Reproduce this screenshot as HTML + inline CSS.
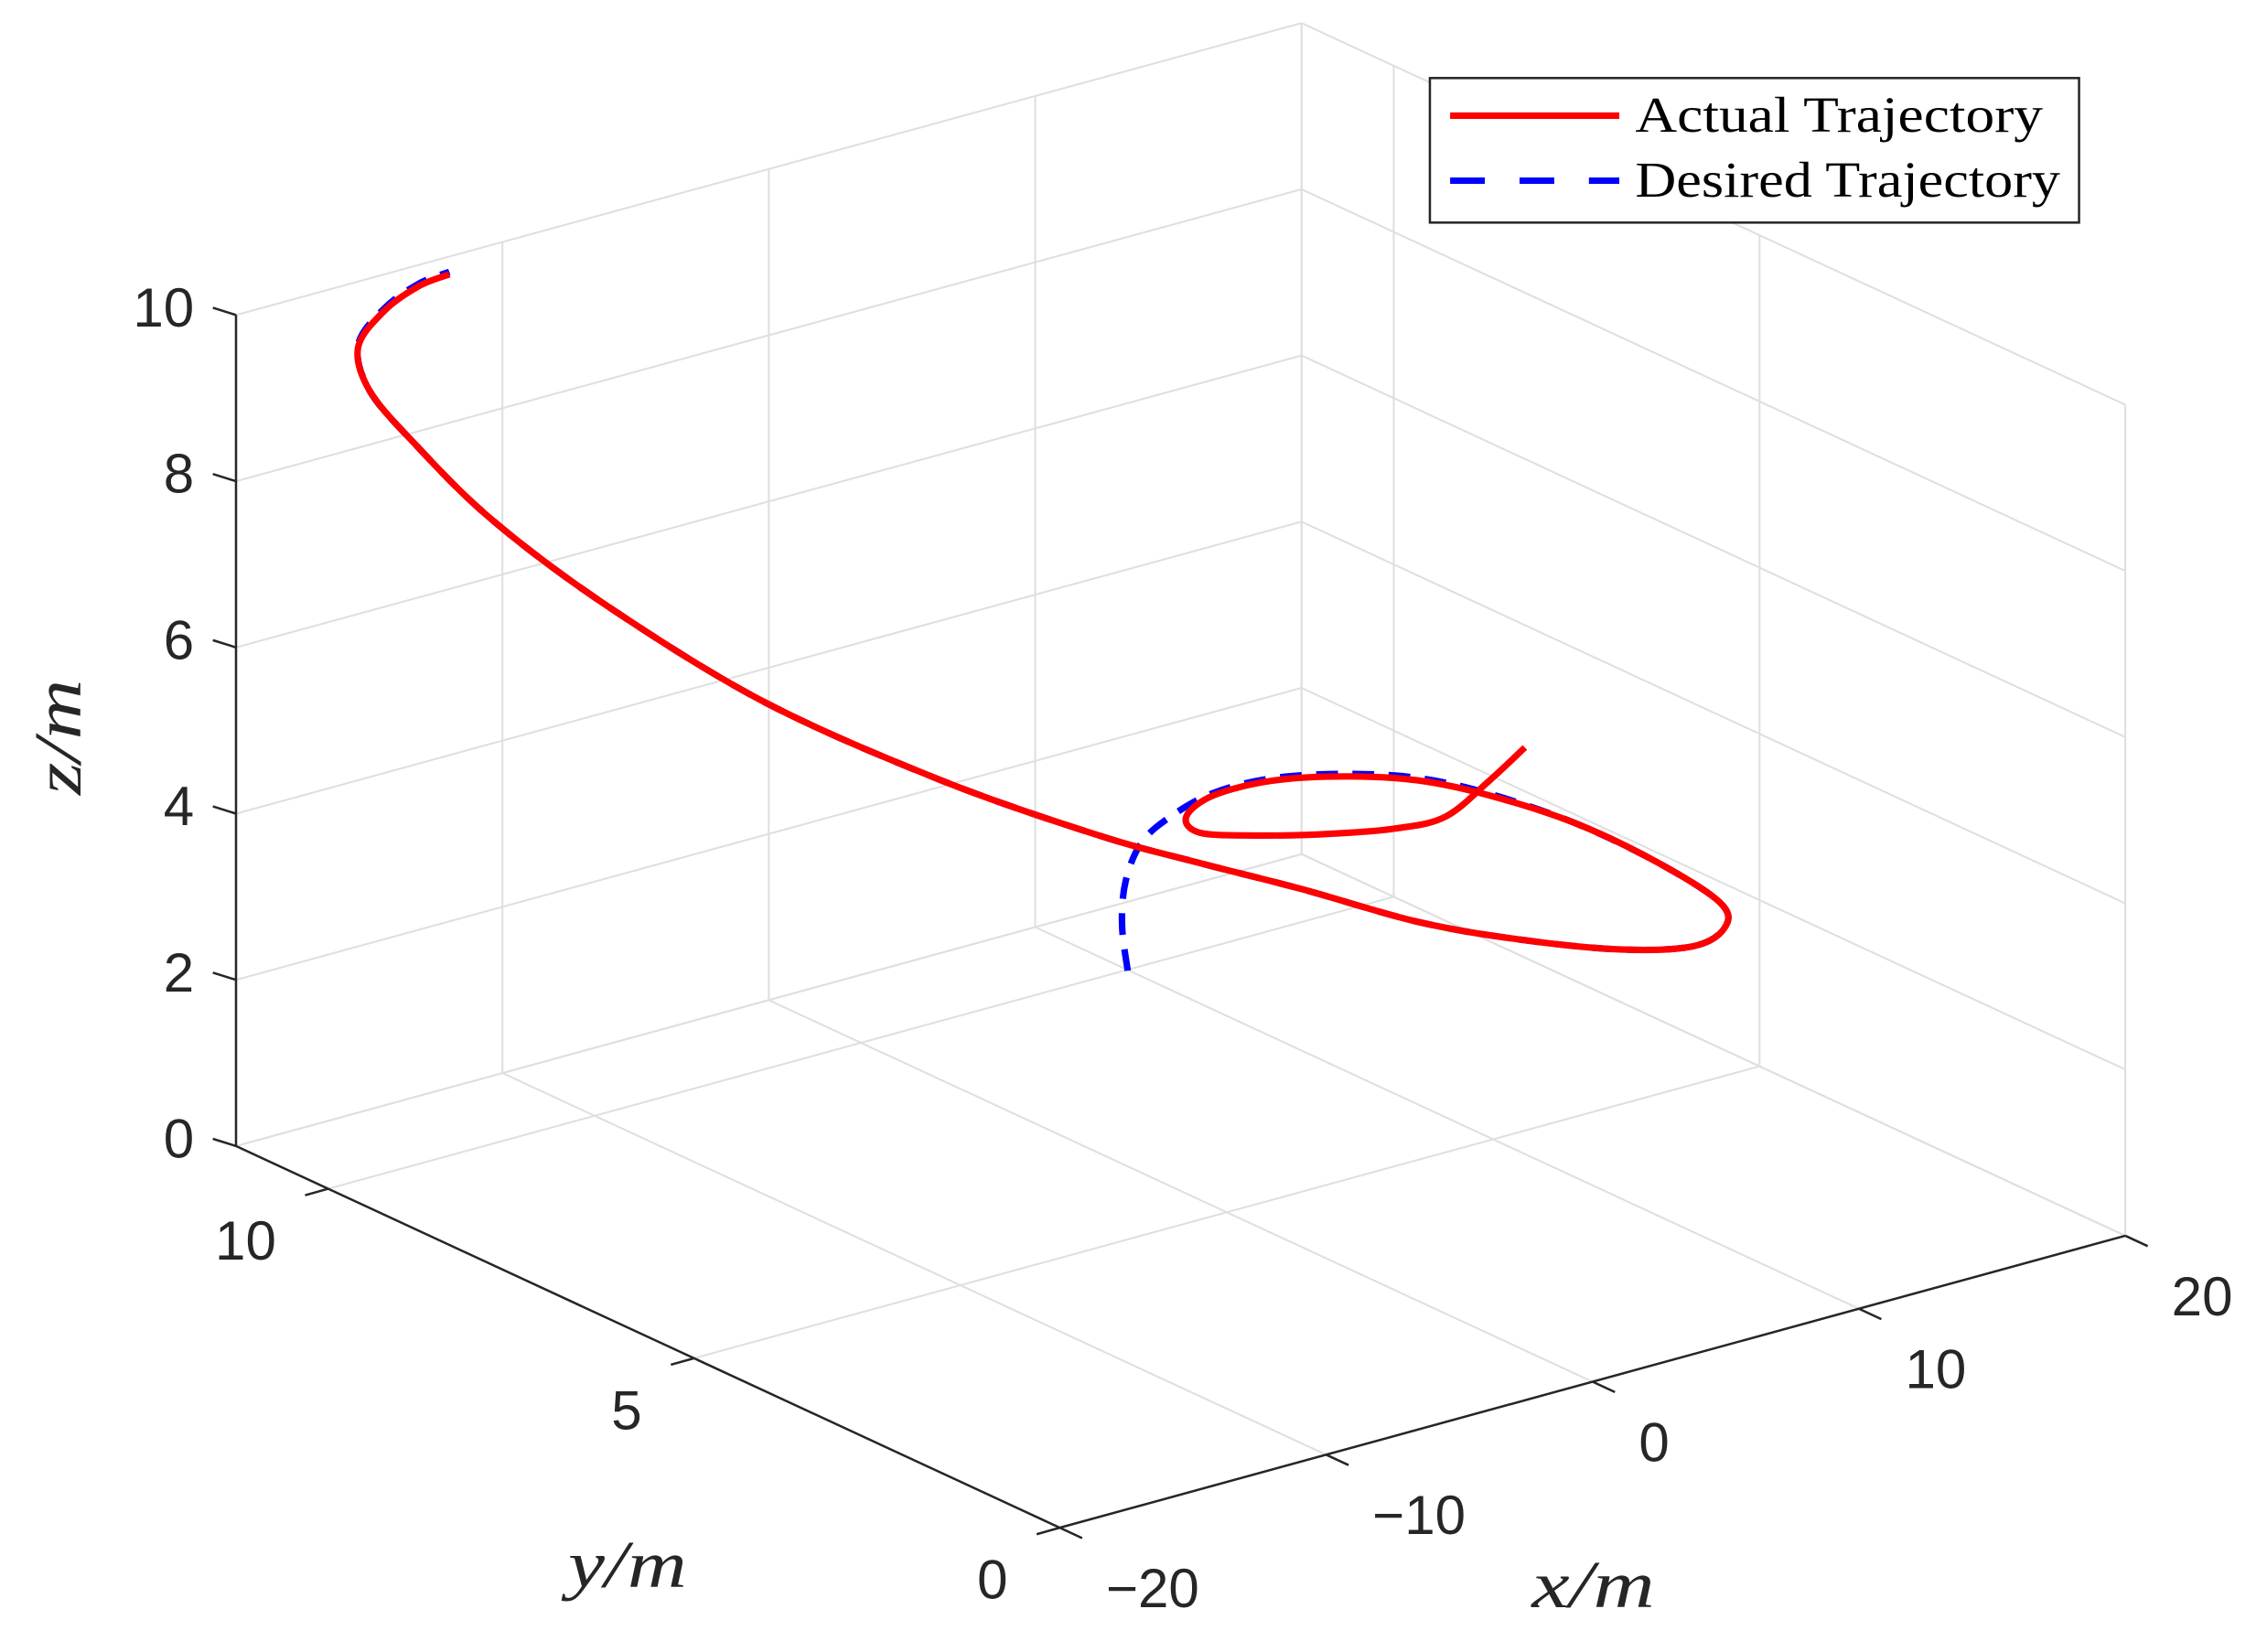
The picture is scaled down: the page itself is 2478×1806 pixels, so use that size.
<!DOCTYPE html>
<html><head><meta charset="utf-8"><style>
html,body{margin:0;padding:0;background:#fff;}
svg{display:block;}
</style></head><body>
<svg id="chart" xmlns="http://www.w3.org/2000/svg" width="2478" height="1806" viewBox="0 0 1568 1143" preserveAspectRatio="none">
<rect x="0" y="0" width="1568" height="1143" fill="#fff"/>
<g id="grid"></g>
<g id="axes"></g>
<g id="series"></g>
<g id="labels"></g>
<text x="45" y="510" transform="rotate(-90 45 510)" text-anchor="middle" dominant-baseline="middle" font-family="Liberation Serif, serif" font-style="italic" font-size="46" textLength="80" lengthAdjust="spacingAndGlyphs" fill="#262626">z/m</text>
<text x="434" y="1098" text-anchor="middle" font-family="Liberation Serif, serif" font-style="italic" font-size="46" textLength="82" lengthAdjust="spacingAndGlyphs" fill="#262626">y/m</text>
<text x="1102" y="1112" text-anchor="middle" font-family="Liberation Serif, serif" font-style="italic" font-size="46" textLength="85" lengthAdjust="spacingAndGlyphs" fill="#262626">x/m</text>
<g>
<rect x="989" y="54" width="449" height="100" fill="#fff" stroke="#262626" stroke-width="1.6"/>
<line x1="1003" y1="80" x2="1120" y2="80" stroke="#ff0000" stroke-width="4.5"/>
<line x1="1003" y1="125" x2="1120" y2="125" stroke="#0000ff" stroke-width="4.5" stroke-dasharray="24,24"/>
<text x="1131" y="91" font-family="Liberation Serif, serif" font-size="35" textLength="282" lengthAdjust="spacingAndGlyphs" fill="#000">Actual Trajectory</text>
<text x="1131" y="136" font-family="Liberation Serif, serif" font-size="35" textLength="294" lengthAdjust="spacingAndGlyphs" fill="#000">Desired Trajectory</text>
</g>
</svg>
<script>
const xTicks = [-20, -10, 0, 10, 20];
const yTicks = [0, 5, 10];
const zTicks = [0, 2, 4, 6, 8, 10];
const xTickLabels = ["\u221220", "\u221210", "0", "10", "20"];
const yTickLabels = ["0", "5", "10"];
const zTickLabels = ["0", "2", "4", "6", "8", "10"];
const xLim = [-20, 20];
const yLim = [0, 11.26];
const zLim = [0, 10];

const actualX = [18.0,15.5,12.6,10.8,9.0,7.2,6.0,6.5,7.8,9.5,11.0,12.1,12.6,12.8,12.3,11.3,9.7,7.6,5.3,3.0,1.1,-0.4,-1.9,-3.3,-5.9,-8.2,-10.0,-11.7,-13.8,-15.6,-15.8,-15.0,-13.8,-12.9];
const actualY = [7.48,7.05,6.60,6.64,6.87,7.21,7.55,7.92,8.02,7.84,7.40,6.80,6.01,4.88,3.54,2.36,1.73,1.40,1.56,2.11,2.79,3.84,4.68,5.55,6.76,8.32,9.8,10.78,11.11,11.04,11.12,11.05,11.02,10.93];
const actualZ = [3.0,3.0,3.0,3.0,3.0,3.0,3.0,3.0,3.1,3.2,3.3,3.4,3.5,3.6,3.7,3.8,3.9,4.0,4.1,4.2,4.3,4.4,4.5,4.6,5.0,5.5,6.2,7.0,8.0,8.8,9.3,9.7,9.9,10.0];

const desiredX = [1.5,2.0,2.6,4.1,5.9,7.8,9.5,11.0,12.1,12.6,12.8,12.3,11.3,9.7,7.6,5.3,3.0,1.1,-0.4,-1.9,-3.3,-5.9,-8.2,-10.0,-11.7,-13.8,-15.6,-15.8,-15.0,-13.8,-12.9];
const desiredY = [6.9,7.16,7.33,7.66,7.92,8.02,7.84,7.40,6.80,6.01,4.88,3.54,2.36,1.73,1.40,1.56,2.11,2.79,3.84,4.68,5.55,6.76,8.32,9.8,10.78,11.11,11.04,11.12,11.05,11.02,10.93];
const desiredZ = [2.0,2.4,2.8,3.0,3.05,3.13,3.23,3.33,3.43,3.52,3.6,3.7,3.8,3.9,4.0,4.1,4.2,4.3,4.4,4.5,4.6,5.0,5.5,6.2,7.0,8.0,8.8,9.33,9.73,9.93,10.03];

const NS = "http://www.w3.org/2000/svg";
function proj(x, y, z) {
  const X = x - xLim[0];
  return [733 + 18.425 * X - 50.6 * y, 1057 - 5.05 * X - 23.45 * y - 57.5 * z];
}
function line(parent, a, b, color, w, name) {
  const l = document.createElementNS(NS, "line");
  l.setAttribute("x1", a[0]); l.setAttribute("y1", a[1]);
  l.setAttribute("x2", b[0]); l.setAttribute("y2", b[1]);
  l.setAttribute("stroke", color); l.setAttribute("stroke-width", w);
  
  
  parent.appendChild(l);
}
function text(parent, x, y, s, anchor, name) {
  const t = document.createElementNS(NS, "text");
  t.setAttribute("x", x); t.setAttribute("y", y);
  t.setAttribute("text-anchor", anchor);
  t.setAttribute("font-family", "Liberation Sans, Arial, sans-serif");
  t.setAttribute("font-size", "38");
  t.setAttribute("fill", "#262626");
  t.textContent = s;
  
  
  parent.appendChild(t);
}
const grid = document.getElementById("grid");
const gc = "#dfdfdf", gw = 1.3;
const yWall = yTicks.concat([yLim[1]]);
xTicks.forEach(x => line(grid, proj(x, yLim[1], zLim[0]), proj(x, yLim[1], zLim[1]), gc, gw, "grid-back-vertical"));
zTicks.forEach(z => line(grid, proj(xLim[0], yLim[1], z), proj(xLim[1], yLim[1], z), gc, gw, "grid-back-horizontal"));
yWall.forEach(y => line(grid, proj(xLim[1], y, zLim[0]), proj(xLim[1], y, zLim[1]), gc, gw, "grid-side-vertical"));
zTicks.forEach(z => line(grid, proj(xLim[1], yLim[0], z), proj(xLim[1], yLim[1], z), gc, gw, "grid-side-horizontal"));
xTicks.forEach(x => line(grid, proj(x, yLim[0], 0), proj(x, yLim[1], 0), gc, gw, "grid-floor-x"));
yWall.forEach(y => line(grid, proj(xLim[0], y, 0), proj(xLim[1], y, 0), gc, gw, "grid-floor-y"));

const axes = document.getElementById("axes");
const ac = "#262626";
line(axes, proj(xLim[0], yLim[1], zLim[0]), proj(xLim[0], yLim[1], zLim[1]), ac, 1.6, "z-axis-line");
line(axes, proj(xLim[0], yLim[1], 0), proj(xLim[0], yLim[0], 0), ac, 1.6, "y-axis-line");
line(axes, proj(xLim[0], yLim[0], 0), proj(xLim[1], yLim[0], 0), ac, 1.6, "x-axis-line");
const labels = document.getElementById("labels");
zTicks.forEach((z, i) => {
  const p = proj(xLim[0], yLim[1], z);
  line(axes, p, [p[0] - 16, p[1] - 5], ac, 1.6, "z-tick");
  text(labels, p[0] - 29, p[1] + 8, zTickLabels[i], "end", "z-tick-label");
});
yTicks.forEach((y, i) => {
  const p = proj(xLim[0], y, 0);
  line(axes, p, [p[0] - 16, p[1] + 4.5], ac, 1.6, "y-tick");
  text(labels, p[0] - 36, p[1] + 49, yTickLabels[i], "end", "y-tick-label");
});
xTicks.forEach((x, i) => {
  const p = proj(x, yLim[0], 0);
  line(axes, p, [p[0] + 15.5, p[1] + 7.2], ac, 1.6, "x-tick");
  text(labels, p[0] + 32, p[1] + 55, xTickLabels[i], "start", "x-tick-label");
});

function smoothPath(xs, ys, zs) {
  const pts = xs.map((x, i) => proj(x, ys[i], zs[i]));
  let d = "M" + pts[0][0].toFixed(1) + "," + pts[0][1].toFixed(1);
  for (let i = 0; i < pts.length - 1; i++) {
    const p0 = pts[Math.max(0, i - 1)], p1 = pts[i], p2 = pts[i + 1], p3 = pts[Math.min(pts.length - 1, i + 2)];
    const c1 = [p1[0] + (p2[0] - p0[0]) / 6, p1[1] + (p2[1] - p0[1]) / 6];
    const c2 = [p2[0] - (p3[0] - p1[0]) / 6, p2[1] - (p3[1] - p1[1]) / 6];
    d += " C" + c1[0].toFixed(1) + "," + c1[1].toFixed(1) + " " + c2[0].toFixed(1) + "," + c2[1].toFixed(1) + " " + p2[0].toFixed(1) + "," + p2[1].toFixed(1);
  }
  return d;
}
const series = document.getElementById("series");
const dp = document.createElementNS(NS, "path");
dp.setAttribute("d", smoothPath(desiredX, desiredY, desiredZ));
dp.setAttribute("fill", "none"); dp.setAttribute("stroke", "#0000ff");
dp.setAttribute("stroke-width", "4.5"); dp.setAttribute("stroke-dasharray", "15,10");


series.appendChild(dp);
const ap = document.createElementNS(NS, "path");
ap.setAttribute("d", smoothPath(actualX, actualY, actualZ));
ap.setAttribute("fill", "none"); ap.setAttribute("stroke", "#ff0000");
ap.setAttribute("stroke-width", "4.5"); ap.setAttribute("stroke-linejoin", "round");


series.appendChild(ap);
</script>
</body></html>
